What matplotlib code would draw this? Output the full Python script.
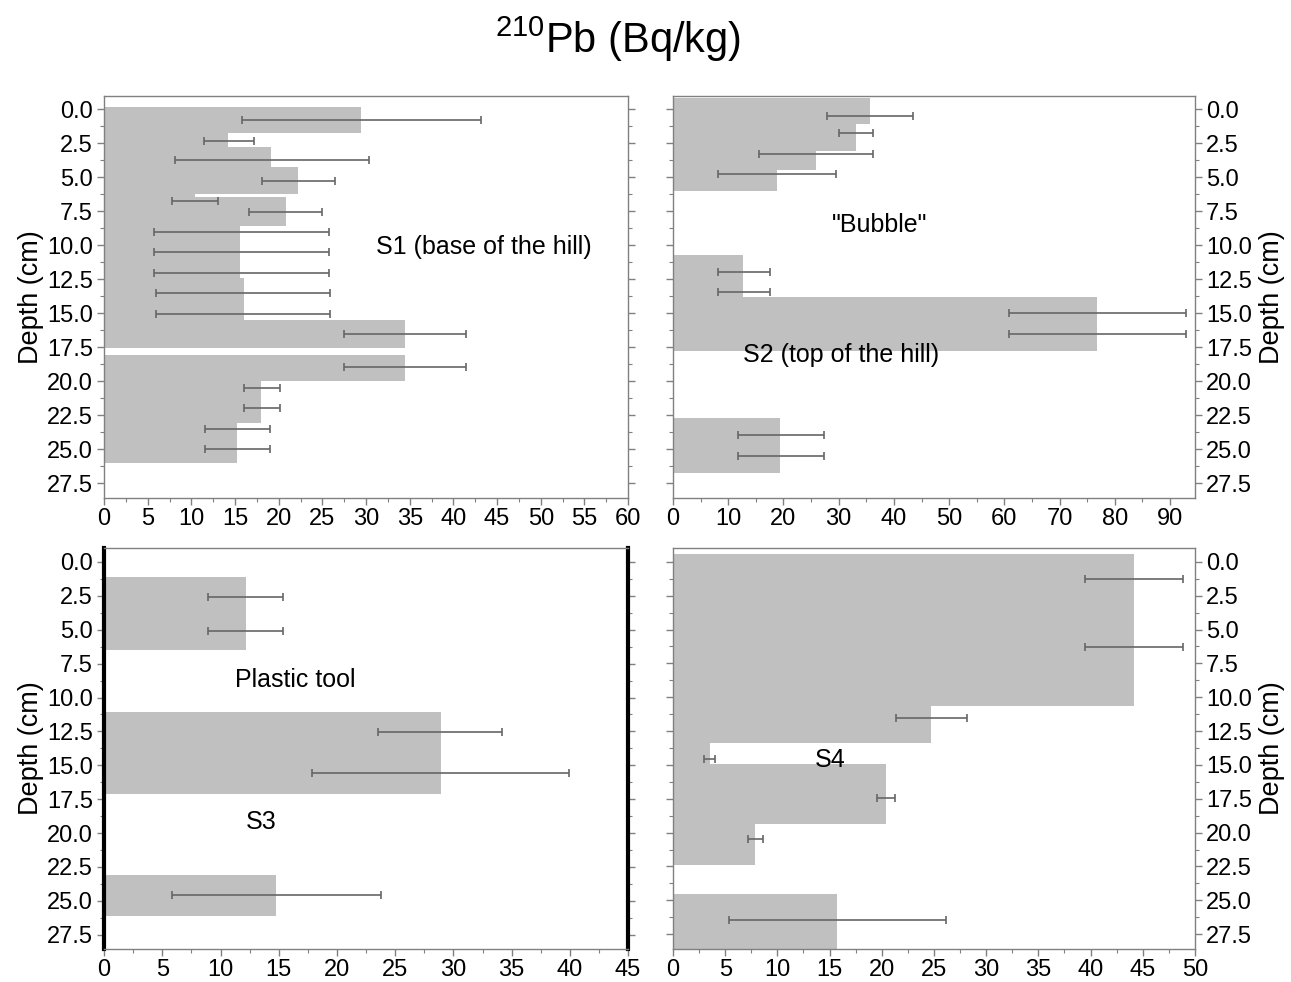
import matplotlib
matplotlib.use("Agg")
from matplotlib import pyplot as plt
from matplotlib.ticker import MultipleLocator, FormatStrFormatter

plt.rcParams["font.family"] = ["Liberation Sans", "DejaVu Sans"]
plt.rcParams["mathtext.fontset"] = "custom"
plt.rcParams["mathtext.rm"] = "Liberation Sans"

# S1 (base of the hill): bar depth ranges (cm) and activity (Bq/kg)
s1_top = [-0.2, 1.77, 2.8, 4.27, 6.26, 6.48, 8.57, 12.45, 15.5, 18.05, 20.0, 23.08]
s1_bottom = [1.77, 2.8, 4.27, 6.26, 7.0, 8.57, 12.45, 15.5, 17.55, 20.0, 23.08, 26.0]
s1_value = [29.4, 14.2, 19.1, 22.2, 10.4, 20.8, 15.6, 16.0, 34.5, 34.5, 18.0, 15.25]
s1_err_depth = [0.79, 2.31, 3.73, 5.25, 6.75, 7.54, 9.06, 10.53, 12.03, 13.53, 15.03,
                16.55, 19.0, 20.5, 22.0, 23.5, 25.0]
s1_err_value = [29.5, 14.35, 19.2, 22.25, 10.45, 20.75, 15.7, 15.7, 15.7, 15.95, 15.95,
                34.5, 34.5, 18.05, 18.05, 15.25, 15.25]
s1_err = [13.7, 2.85, 11.1, 4.15, 2.65, 4.15, 10.0, 10.0, 10.0, 9.95, 9.95,
          7.0, 7.0, 2.05, 2.05, 3.7, 3.7]

# S2 (top of the hill)
s2_top = [-0.8, 1.1, 3.06, 4.46, 10.7, 13.8, 22.7]
s2_bottom = [1.1, 3.06, 4.46, 6.0, 13.8, 17.75, 26.75]
s2_value = [35.6, 33.1, 25.9, 18.9, 12.6, 76.75, 19.4]
s2_err_depth = [0.49, 1.76, 3.26, 4.78, 12.0, 13.45, 15.0, 16.5, 24.0, 25.5]
s2_err_value = [35.6, 33.15, 25.95, 18.85, 12.8, 12.8, 76.8, 76.8, 19.55, 19.55]
s2_err = [7.8, 3.15, 10.35, 10.75, 4.7, 4.7, 16.0, 16.0, 7.75, 7.75]

# S3
s3_top = [1.1, 11.1, 23.1]
s3_bottom = [6.5, 17.1, 26.1]
s3_value = [12.15, 28.9, 14.75]
s3_err_depth = [2.58, 5.08, 12.57, 15.6, 24.6]
s3_err_value = [12.15, 12.15, 28.85, 28.9, 14.8]
s3_err = [3.25, 3.25, 5.3, 11.0, 9.0]

# S4
s4_top = [-0.6, 10.68, 13.4, 14.94, 19.39, 24.57]
s4_bottom = [10.68, 13.4, 14.94, 19.39, 22.42, 28.6]
s4_value = [44.15, 24.75, 3.5, 20.45, 7.88, 15.75]
s4_err_depth = [1.3, 6.28, 11.54, 14.55, 17.48, 20.49, 26.48]
s4_err_value = [44.2, 44.2, 24.75, 3.5, 20.4, 7.88, 15.77]
s4_err = [4.7, 4.7, 3.4, 0.5, 0.9, 0.72, 10.4]

BAR_COLOR = "#c0c0c0"
ERR_COLOR = "#666666"
SPINE_COLOR = "#808080"


def draw_panel(ax, top, bottom, value, err_depth, err_value, err,
               xmax, xmajor, ylim, label_side):
    centers = [(t + b) / 2 for t, b in zip(top, bottom)]
    heights = [b - t for t, b in zip(top, bottom)]
    ax.barh(centers, value, height=heights, color=BAR_COLOR, linewidth=0)
    ax.errorbar(err_value, err_depth, xerr=err, fmt="none", ecolor=ERR_COLOR,
                elinewidth=1.2, capsize=3, capthick=1.2)

    ax.set_xlim(0, xmax)
    ax.set_ylim(*ylim)
    ax.xaxis.set_major_locator(MultipleLocator(xmajor))
    ax.xaxis.set_minor_locator(MultipleLocator(xmajor / 2))
    ax.yaxis.set_major_locator(MultipleLocator(2.5))
    ax.yaxis.set_minor_locator(MultipleLocator(1.25))
    ax.yaxis.set_major_formatter(FormatStrFormatter("%.1f"))

    for sp in ax.spines.values():
        sp.set_color(SPINE_COLOR)
        sp.set_linewidth(1.0)

    ax.tick_params(which="both", direction="out", color=SPINE_COLOR,
                   labelsize=17, top=False, left=True, right=True)
    ax.tick_params(which="major", length=5, width=1)
    ax.tick_params(which="minor", length=3, width=0.8)
    ax.tick_params(axis="x", pad=2)
    ax.tick_params(axis="y", pad=3)
    if label_side == "left":
        ax.tick_params(axis="y", labelleft=True, labelright=False)
        ax.set_ylabel("Depth (cm)", fontsize=19.5, labelpad=2)
    else:
        ax.tick_params(axis="y", labelleft=False, labelright=True)
        ax.yaxis.set_label_position("right")
        ax.set_ylabel("Depth (cm)", fontsize=19.5, labelpad=5)


fig = plt.figure(figsize=(12.91, 9.82), dpi=100)

ax1 = fig.add_axes([0.0806, 0.4929, 0.4059, 0.4094])
ax2 = fig.add_axes([0.5213, 0.4929, 0.4043, 0.4094])
ax3 = fig.add_axes([0.0806, 0.0336, 0.4059, 0.4084])
ax4 = fig.add_axes([0.5213, 0.0336, 0.4043, 0.4084])

draw_panel(ax1, s1_top, s1_bottom, s1_value, s1_err_depth, s1_err_value, s1_err,
           60, 5, (28.6, -0.98), "left")
draw_panel(ax2, s2_top, s2_bottom, s2_value, s2_err_depth, s2_err_value, s2_err,
           94.5, 10, (28.6, -0.98), "right")
draw_panel(ax3, s3_top, s3_bottom, s3_value, s3_err_depth, s3_err_value, s3_err,
           45, 5, (28.55, -1.03), "left")
draw_panel(ax4, s4_top, s4_bottom, s4_value, s4_err_depth, s4_err_value, s4_err,
           50, 5, (28.6, -1.03), "right")

# S3 panel has heavy black side frames
for side in ("left", "right"):
    ax3.spines[side].set_color("black")
    ax3.spines[side].set_linewidth(3)

ax1.text(43.5, 10.1, "S1 (base of the hill)", fontsize=18, ha="center", va="center")
ax2.text(37.4, 8.5, '"Bubble"', fontsize=18, ha="center", va="center")
ax2.text(30.5, 18.1, "S2 (top of the hill)", fontsize=18, ha="center", va="center")
ax3.text(16.4, 8.7, "Plastic tool", fontsize=18, ha="center", va="center")
ax3.text(13.5, 19.2, "S3", fontsize=18, ha="center", va="center")
ax4.text(15.1, 14.6, "S4", fontsize=18, ha="center", va="center")

fig.text(0.479, 0.946, r"$^{210}$Pb (Bq/kg)", fontsize=30, ha="center", va="baseline")

fig.savefig("out.png", dpi=100)
